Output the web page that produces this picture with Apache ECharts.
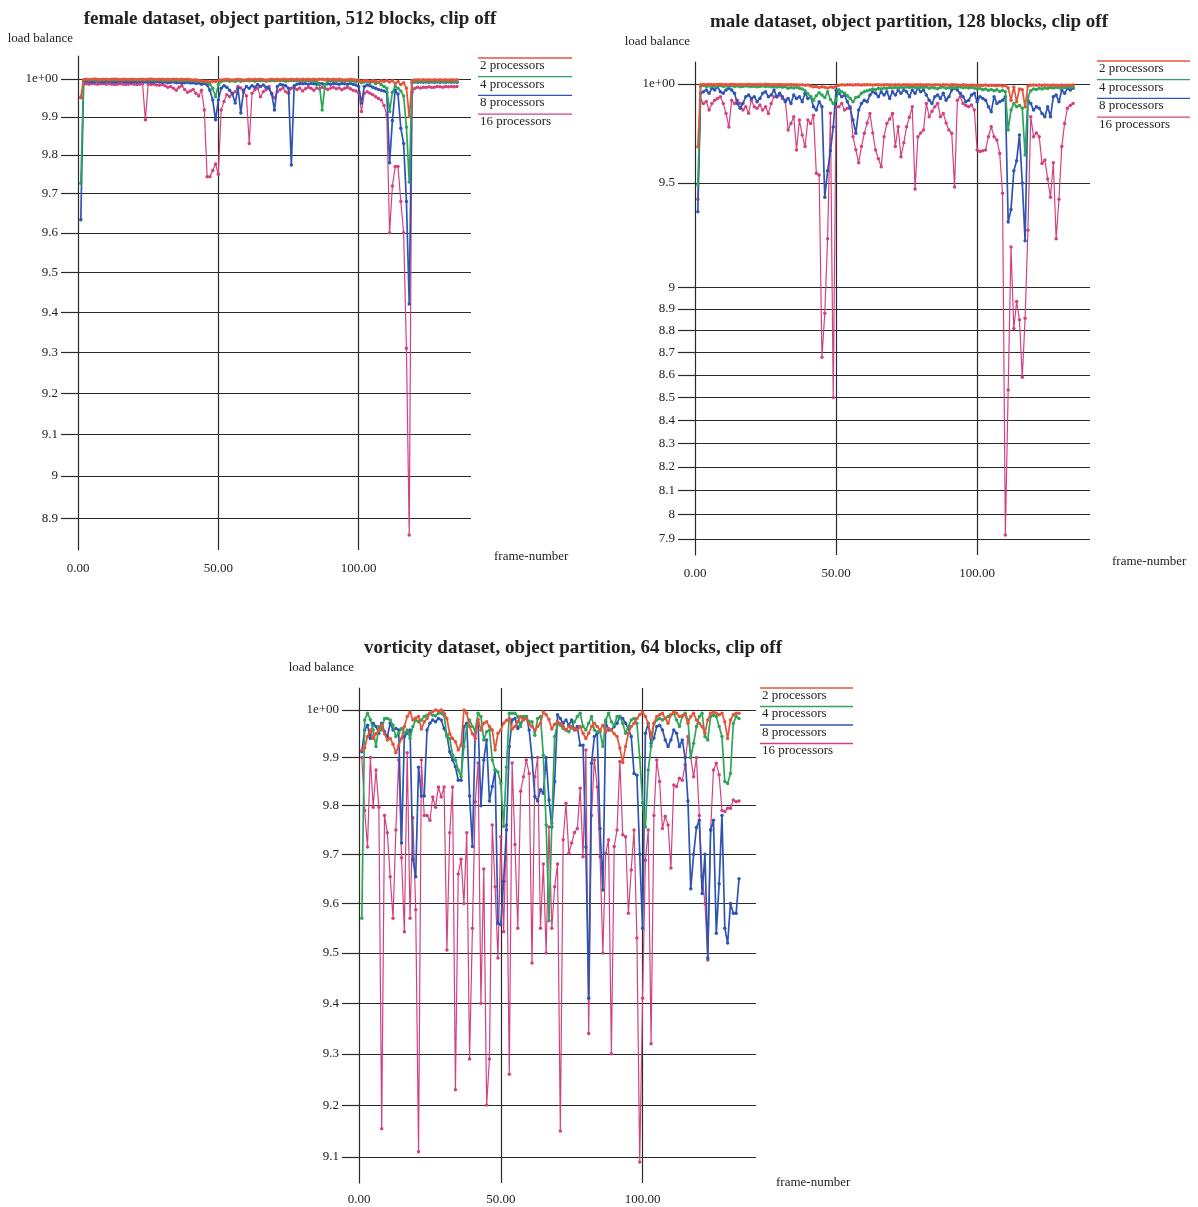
<!DOCTYPE html>
<html><head><meta charset="utf-8">
<script src="https://cdn.jsdelivr.net/npm/echarts@6/dist/echarts.min.js"></script>
<style>html,body{margin:0;padding:0;background:#fff}#c{width:1198px;height:1207px}</style>
</head><body><div id="c"></div><script>
// ---------------- data ----------------
const seriesNames = ['2 processors', '4 processors', '8 processors', '16 processors'];

// female dataset, 512 blocks (frames 1..135)
const femaleP2 = [.9952,.9998,.9999,.9998,.9999,1.0,.9999,.9998,.9999,.9999,
 .9998,.9999,1.0,.9999,.9998,.9999,.9999,.9998,.9999,.9999,
 .9998,.9999,.9999,.9998,.9999,1.0,.9999,.9998,.9999,.9999,
 .9998,.9999,.9998,.9999,.9999,.9998,.9999,.9998,.9999,.9998,
 .9997,.9998,.9996,.9995,.9993,.9994,.9992,.9994,.9993,.9995,
 .9997,.9998,.9999,.9998,.9997,.9998,.9999,.9998,.9997,.9998,
 .9999,.9998,.9999,.9998,.9999,.9998,.9997,.9998,.9999,.9998,
 .9999,.9998,.9999,.9999,.9998,.9999,.9998,.9999,.9998,.9999,
 .9998,.9999,.9998,.9999,.9998,.9999,.9999,.9998,.9999,.9998,
 .9999,.9998,.9999,.9998,.9997,.9998,.9999,.9998,.9997,.9996,
 .9994,.9996,.9995,.9993,.9996,.9994,.9991,.9995,.9993,.9996,
 .9992,.9995,.9988,.9993,.9985,.9990,.9975,.9900,.9995,.9997,
 .9998,.9997,.9998,.9997,.9998,.9997,.9998,.9997,.9998,.9997,
 .9998,.9997,.9998,.9997,.9998];
const femaleP4 = [.9727,.9997,.9998,.9997,.9998,.9997,.9997,.9998,.9997,.9998,
 .9997,.9998,.9997,.9997,.9998,.9997,.9998,.9997,.9997,.9998,
 .9997,.9997,.9998,.9997,.9998,.9997,.9997,.9998,.9997,.9996,
 .9997,.9996,.9997,.9996,.9997,.9996,.9995,.9997,.9996,.9995,
 .9996,.9994,.9995,.9993,.9994,.9990,.9985,.9975,.9953,.9985,
 .9993,.9995,.9996,.9994,.9995,.9993,.9996,.9994,.9995,.9996,
 .9995,.9996,.9994,.9996,.9995,.9996,.9994,.9995,.9996,.9995,
 .9996,.9995,.9996,.9994,.9995,.9996,.9995,.9996,.9995,.9996,
 .9995,.9996,.9994,.9995,.9993,.9985,.9918,.9985,.9994,.9995,
 .9996,.9995,.9996,.9995,.9996,.9995,.9994,.9995,.9993,.9994,
 .9990,.9992,.9994,.9990,.9993,.9988,.9991,.9985,.9980,.9975,
 .9914,.9965,.9980,.9975,.9968,.9955,.9873,.9730,.9990,.9994,
 .9993,.9994,.9993,.9994,.9993,.9994,.9993,.9994,.9993,.9994,
 .9993,.9994,.9993,.9994,.9993];
const femaleP8 = [.9633,.9993,.9994,.9993,.9992,.9993,.9994,.9993,.9992,.9993,
 .9994,.9993,.9992,.9993,.9994,.9993,.9992,.9993,.9992,.9993,
 .9992,.9993,.9994,.9992,.9993,.9992,.9991,.9993,.9992,.9991,
 .9992,.9990,.9991,.9992,.9990,.9991,.9989,.9990,.9991,.9989,
 .9990,.9988,.9989,.9986,.9988,.9984,.9970,.9944,.9892,.9944,
 .9975,.9982,.9978,.9970,.9960,.9936,.9975,.9910,.9970,.9980,
 .9975,.9982,.9978,.9985,.9980,.9984,.9978,.9975,.9960,.9918,
 .9980,.9985,.9984,.9982,.9975,.9774,.9982,.9986,.9988,.9987,
 .9988,.9986,.9988,.9987,.9986,.9988,.9987,.9985,.9987,.9986,
 .9988,.9987,.9986,.9988,.9987,.9986,.9988,.9986,.9984,.9980,
 .9936,.9980,.9984,.9982,.9978,.9975,.9972,.9970,.9968,.9965,
 .9780,.9890,.9970,.9960,.9870,.9830,.9680,.9420,.9990,.9992,
 .9991,.9992,.9991,.9992,.9991,.9992,.9991,.9992,.9991,.9992,
 .9991,.9992,.9991,.9992,.9991];
const femaleP16 = [.9950,.9986,.9987,.9986,.9988,.9987,.9986,.9987,.9988,.9986,
 .9987,.9986,.9985,.9986,.9987,.9986,.9985,.9986,.9987,.9986,
 .9985,.9986,.9987,.9892,.9986,.9985,.9986,.9984,.9983,.9985,
 .9982,.9978,.9980,.9975,.9970,.9978,.9982,.9972,.9965,.9968,
 .9972,.9962,.9955,.9970,.9918,.9744,.9744,.9760,.9777,.9750,
 .9918,.9940,.9958,.9953,.9962,.9966,.9980,.9976,.9966,.9955,
 .9830,.9962,.9971,.9976,.9953,.9966,.9971,.9980,.9962,.9950,
 .9966,.9971,.9976,.9966,.9962,.9975,.9978,.9972,.9976,.9968,
 .9974,.9978,.9975,.9970,.9976,.9973,.9978,.9975,.9972,.9976,
 .9978,.9974,.9976,.9971,.9975,.9978,.9974,.9970,.9968,.9962,
 .9914,.9962,.9966,.9962,.9958,.9953,.9948,.9944,.9930,.9905,
 .9600,.9720,.9770,.9770,.9680,.9600,.9310,.8860,.9965,.9975,
 .9978,.9976,.9978,.9977,.9979,.9977,.9978,.9980,.9979,.9978,
 .9980,.9979,.9980,.9979,.9980];

// male dataset, 128 blocks (frames 1..134)
const maleP2 = [.968,.9997,.9998,.9997,.9999,.9998,.9997,.9998,.9999,.9997,
 .9998,.9997,.9999,.9998,.9997,.9998,.9997,.9998,.9999,.9997,
 .9998,.9997,.9998,.9997,.9999,.9998,.9997,.9998,.9997,.9998,
 .9997,.9996,.9997,.9998,.9996,.9997,.9995,.9996,.9994,.9995,
 .9990,.9986,.9988,.9982,.9986,.9984,.9980,.9985,.9982,.9990,
 .9994,.9996,.9995,.9997,.9996,.9995,.9997,.9996,.9995,.9997,
 .9996,.9997,.9995,.9996,.9997,.9995,.9996,.9997,.9996,.9995,
 .9997,.9996,.9995,.9997,.9996,.9997,.9995,.9996,.9997,.9996,
 .9995,.9997,.9996,.9995,.9997,.9996,.9995,.9997,.9996,.9995,
 .9997,.9996,.9995,.9994,.9996,.9995,.9993,.9995,.9994,.9992,
 .9994,.9993,.9995,.9992,.9994,.9993,.9991,.9994,.9990,.9993,
 .9980,.9917,.9985,.9909,.9975,.9970,.9883,.9990,.9994,.9995,
 .9994,.9995,.9993,.9995,.9994,.9992,.9995,.9994,.9993,.9995,
 .9994,.9995,.9994,.9995];
const maleP4 = [.949,.9990,.9992,.9988,.9990,.9991,.9989,.9990,.9992,.9988,
 .9990,.9989,.9991,.9988,.9990,.9986,.9988,.9990,.9989,.9987,
 .9989,.9986,.9988,.9990,.9987,.9989,.9986,.9988,.9985,.9987,
 .9984,.9986,.9978,.9983,.9980,.9984,.9978,.9975,.9965,.9950,
 .9935,.9917,.9940,.9955,.9943,.9930,.9960,.9920,.9900,.9915,
 .9970,.9960,.9952,.9940,.9926,.9909,.9930,.9935,.9952,.9960,
 .9965,.9969,.9975,.9970,.9978,.9975,.9980,.9977,.9982,.9979,
 .9983,.9980,.9984,.9981,.9985,.9982,.9986,.9983,.9980,.9984,
 .9982,.9985,.9978,.9983,.9980,.9976,.9982,.9985,.9978,.9981,
 .9984,.9980,.9983,.9985,.9981,.9984,.9980,.9983,.9979,.9975,
 .9978,.9970,.9975,.9968,.9972,.9965,.9970,.9962,.9968,.9960,
 .9765,.9866,.9900,.9883,.9890,.9875,.9639,.9935,.9965,.9975,
 .9972,.9978,.9975,.9980,.9977,.9982,.9980,.9983,.9981,.9984,
 .9982,.9985,.9983,.9985];
const maleP8 = [.936,.9952,.9960,.9969,.9952,.9978,.9969,.9986,.9960,.9952,
 .9969,.9978,.9969,.9952,.9900,.9875,.9900,.9935,.9943,.9926,
 .9935,.9909,.9926,.9952,.9960,.9935,.9943,.9969,.9935,.9952,
 .9935,.9909,.9926,.9900,.9943,.9926,.9935,.9909,.9952,.9926,
 .9935,.9883,.9866,.9909,.9883,.9430,.9560,.9660,.9780,.9969,
 .9952,.9935,.9943,.9909,.9875,.9815,.9748,.9866,.9900,.9917,
 .9909,.9943,.9960,.9952,.9935,.9960,.9943,.9960,.9926,.9960,
 .9943,.9969,.9952,.9969,.9960,.9935,.9969,.9952,.9978,.9960,
 .9969,.9943,.9917,.9900,.9935,.9943,.9926,.9952,.9917,.9935,
 .9969,.9978,.9969,.9952,.9935,.9909,.9917,.9943,.9952,.9909,
 .9935,.9926,.9917,.9883,.9858,.9935,.9900,.9909,.9917,.9935,
 .9310,.9370,.9560,.9610,.9740,.9500,.9220,.9917,.9900,.9866,
 .9883,.9875,.9849,.9832,.9883,.9832,.9935,.9943,.9909,.9969,
 .9952,.9978,.9969,.9978];
const maleP16 = [.942,.9917,.9900,.9910,.9866,.9900,.9917,.9926,.9935,.9900,
 .9849,.9780,.9917,.9900,.9917,.9900,.9866,.9883,.9850,.9917,
 .9883,.9875,.9892,.9866,.9883,.9849,.9900,.9935,.9935,.9943,
 .9926,.9917,.9765,.9798,.9832,.9664,.9815,.9740,.9681,.9815,
 .9798,.9840,.9548,.9540,.8680,.8880,.9230,.9850,.8500,.9883,
 .9883,.9900,.9866,.9875,.9883,.9731,.9665,.9600,.9681,.9748,
 .9800,.9849,.9750,.9664,.9620,.9580,.9731,.9798,.9820,.9849,
 .9681,.9781,.9630,.9700,.9781,.9830,.9883,.9470,.9731,.9750,
 .9765,.9900,.9832,.9860,.9883,.9900,.9832,.9849,.9800,.9765,
 .9748,.9480,.9917,.9935,.9900,.9890,.9883,.9892,.9866,.9664,
 .9656,.9660,.9664,.9731,.9781,.9731,.9714,.9647,.9450,.7916,
 .8534,.9190,.8810,.8934,.8850,.8590,.8857,.9270,.9832,.9731,
 .9750,.9731,.9597,.9614,.9520,.9430,.9600,.9230,.9420,.9681,
 .9798,.9875,.9890,.9900];

// vorticity dataset, 64 blocks (frames 1..134)
const vortP2 = [.9916,.9920,.9944,.9958,.9940,.9950,.9958,.9968,.9950,.9937,
 .9940,.9928,.9910,.9925,.9940,.9965,.9986,.9996,.9979,.9983,
 .9986,.9960,.9975,.9982,.9993,.9997,1.0,.9998,1.0,.9993,
 .9982,.9950,.9940,.9933,.9916,.9926,1.0,.9993,.9965,.9950,
 .9940,.9980,.9958,.9972,.9975,.9965,.9958,.9916,.9951,.9958,
 .9972,.9978,.9982,.9960,.9965,.9975,.9986,.9979,.9982,.9970,
 .9965,.9958,.9965,.9972,.9996,.9990,.9980,.9960,.9970,.9975,
 .9972,.9965,.9958,.9965,.9962,.9960,.9958,.9965,.9951,.9940,
 .9951,.9965,.9972,.9965,.9958,.9968,.9954,.9961,.9958,.9950,
 .9944,.9920,.9890,.9923,.9951,.9965,.9972,.9982,.9990,.9996,
 .9986,.9972,.9944,.9972,.9986,.9990,.9993,.9982,.9972,.9990,
 .9996,.9993,.9986,.9988,.9990,.9972,.9986,.9993,.9979,.9972,
 .9965,.9951,.9979,.9993,.9996,.9993,.9990,.9993,.9975,.9940,
 .9979,.9990,.9993,.9993];
const vortP4 = [.9570,.9979,.9993,.9980,.9958,.9923,.9965,.9958,.9982,.9982,
 .9979,.9968,.9944,.9951,.9961,.9951,.9958,.9940,.9965,.9979,
 .9975,.9979,.9986,.9989,.9993,.9989,.9988,.9993,.9993,.9989,
 .9944,.9940,.9905,.9895,.9874,.9860,.9923,.9965,.9979,.9965,
 .9958,.9993,.9986,.9937,.9954,.9958,.9895,.9874,.9870,.9846,
 .9757,.9880,.9993,.9993,.9993,.9986,.9965,.9986,.9986,.9975,
 .9975,.9947,.9982,.9986,.9905,.9760,.9565,.9764,.9944,.9972,
 .9968,.9961,.9958,.9954,.9965,.9975,.9986,.9993,.9965,.9958,
 .9972,.9986,.9958,.9954,.9954,.9923,.9979,.9993,.9975,.9968,
 .9986,.9986,.9972,.9951,.9965,.9979,.9982,.9972,.9900,.9806,
 .9756,.9874,.9923,.9972,.9979,.9982,.9979,.9982,.9986,.9990,
 .9993,.9979,.9965,.9986,.9993,.9979,.9900,.9930,.9965,.9986,
 .9993,.9944,.9937,.9986,.9989,.9986,.9965,.9944,.9850,.9846,
 .9867,.9972,.9986,.9982];
const vortP8 = [.9912,.9958,.9968,.9940,.9972,.9965,.9951,.9972,.9954,.9944,
 .9972,.9958,.9961,.9958,.9723,.9944,.9951,.9958,.9690,.9654,
 .9880,.9820,.9820,.9958,.9972,.9979,.9975,.9982,.9979,.9961,
 .9947,.9912,.9895,.9881,.9853,.9853,.9965,.9972,.9820,.9716,
 .9958,.9972,.9800,.9895,.9937,.9810,.9840,.9874,.9560,.9557,
 .9645,.9750,.9923,.9979,.9982,.9961,.9972,.9982,.9986,.9958,
 .9900,.9819,.9810,.9833,.9826,.9900,.9812,.9756,.9850,.9990,
 .9982,.9972,.9979,.9968,.9979,.9958,.9965,.9926,.9926,.9715,
 .9410,.9888,.9944,.9951,.9753,.9627,.9975,.9958,.9958,.9965,
 .9972,.9986,.9982,.9972,.9961,.9944,.9867,.9863,.9700,.9550,
 .9951,.9972,.9930,.9941,.9965,.9968,.9958,.9937,.9923,.9937,
 .9958,.9951,.9923,.9937,.9900,.9810,.9630,.9700,.9755,.9770,
 .9620,.9700,.9490,.9750,.9770,.9540,.9640,.9780,.9550,.9520,
 .9600,.9580,.9580,.9650];
const vortP16 = [.9900,.9790,.9715,.9900,.9797,.9874,.9797,.9154,.9780,.9744,
 .9654,.9570,.9750,.9895,.9693,.9543,.9910,.9570,.9775,.9587,
 .9110,.9895,.9780,.9780,.9770,.9818,.9797,.9839,.9818,.9839,
 .9506,.9744,.9839,.9230,.9660,.9690,.9600,.9744,.9290,.9550,
 .9808,.9889,.9400,.9670,.9200,.9290,.9760,.9634,.9490,.9736,
 .9543,.9760,.9260,.9889,.9720,.9550,.9830,.9860,.9895,.9867,
 .9480,.9860,.9900,.9550,.9680,.9500,.9756,.9550,.9634,.9680,
 .9150,.9730,.9805,.9702,.9723,.9745,.9753,.9836,.9695,.9916,
 .9340,.9780,.9895,.9839,.9695,.9500,.9702,.9730,.9300,.9716,
 .9750,.9892,.9740,.9736,.9580,.9668,.9750,.9530,.9090,.9410,
 .9688,.9750,.9320,.9780,.9895,.9850,.9753,.9778,.9760,.9672,
 .9843,.9840,.9857,.9853,.9885,.9944,.9900,.9860,.9900,.9780,
 .9655,.9600,.9486,.9750,.9874,.9888,.9864,.9790,.9788,.9795,
 .9795,.9812,.9808,.9810];

// y tick values and their printed labels
const femaleTicks = [1, .99, .98, .97, .96, .95, .94, .93, .92, .91, .90, .89];
const femaleTickLabels = ['1e+00','9.9','9.8','9.7','9.6','9.5','9.4','9.3','9.2','9.1','9','8.9'];
const maleTicks = [1, .95, .90, .89, .88, .87, .86, .85, .84, .83, .82, .81, .80, .79];
const maleTickLabels = ['1e+00','9.5','9','8.9','8.8','8.7','8.6','8.5','8.4','8.3','8.2','8.1','8','7.9'];
const vortTicks = [1, .99, .98, .97, .96, .95, .94, .93, .92, .91];
const vortTickLabels = ['1e+00','9.9','9.8','9.7','9.6','9.5','9.4','9.3','9.2','9.1'];

// ---------------- layout / style ----------------
const FONT = '"Liberation Serif", "Times New Roman", serif';
const TXT = '#222';
const GRIDC = '#2a2a2a';
const COLORS = ['#e4533c', '#2fa55a', '#2f55b3', '#d3427f'];

const panels = [
  { title: 'female dataset, object partition, 512 blocks, clip off', tcx: 290, ttop: 10,
    grid: {left: 78, top: 56, width: 393, height: 494}, yRange: [0.8825, 1.0061],
    ticks: femaleTicks, labels: femaleTickLabels,
    data: [femaleP2, femaleP4, femaleP8, femaleP16],
    leg: {x: 478, w: 94, y: 58, gap: 18.7},
    yName: {gap: 17}, xName: {gap: 23, va: 'top'}, xLabMargin: 12 },
  { title: 'male dataset, object partition, 128 blocks, clip off', tcx: 909, ttop: 13,
    grid: {left: 695, top: 62, width: 395, height: 493}, yRange: [0.7834, 1.0115],
    ticks: maleTicks, labels: maleTickLabels,
    data: [maleP2, maleP4, maleP8, maleP16],
    leg: {x: 1097, w: 93, y: 61, gap: 18.7},
    yName: {gap: 20}, xName: {gap: 22, va: 'top'}, xLabMargin: 12 },
  { title: 'vorticity dataset, object partition, 64 blocks, clip off', tcx: 573, ttop: 639,
    grid: {left: 359, top: 688, width: 397, height: 495}, yRange: [0.9050, 1.00465],
    ticks: vortTicks, labels: vortTickLabels,
    data: [vortP2, vortP4, vortP8, vortP16],
    leg: {x: 760, w: 93, y: 688, gap: 18.5},
    yName: {gap: 20}, xName: {gap: 20, va: 'middle'}, xLabMargin: 10 }
];

const option = {
  animation: false,
  backgroundColor: '#fff',
  title: [], grid: [], xAxis: [], yAxis: [], series: [], graphic: []
};

panels.forEach((p, pi) => {
  option.title.push({
    text: p.title, left: p.tcx, top: p.ttop, textAlign: 'center', padding: 0,
    textStyle: {fontFamily: FONT, fontSize: 19, fontWeight: 'bold', color: TXT}
  });
  option.grid.push(Object.assign({containLabel: false}, p.grid));
  option.xAxis.push({
    gridIndex: pi, type: 'value', min: 0, max: 140, interval: 50, position: 'bottom',
    name: 'frame-number', nameLocation: 'end', nameGap: p.xName.gap,
    nameTextStyle: {fontFamily: FONT, fontSize: 13, color: TXT, align: 'left', verticalAlign: p.xName.va},
    axisLine: {show: false, onZero: false}, axisTick: {show: false},
    axisLabel: {fontFamily: FONT, fontSize: 13, color: TXT, margin: p.xLabMargin, showMaxLabel: false,
      formatter: v => Number(v).toFixed(2)},
    splitLine: {show: true, showMinLine: false, showMaxLine: false, lineStyle: {color: GRIDC, width: 1.2}}
  });
  const lnTicks = p.ticks.map(v => Math.log(v));
  option.yAxis.push({
    gridIndex: pi, type: 'value',
    min: Math.log(p.yRange[0]), max: Math.log(p.yRange[1]),
    name: 'load balance', nameLocation: 'end', nameGap: p.yName.gap,
    nameTextStyle: {fontFamily: FONT, fontSize: 13, color: TXT, align: 'right', verticalAlign: 'middle', padding: [0, 5, 0, 0]},
    axisLine: {show: true, onZero: false, lineStyle: {color: GRIDC, width: 1.2}},
    axisTick: {show: true, customValues: lnTicks, length: 17, lineStyle: {color: GRIDC, width: 1.2}},
    axisLabel: {customValues: lnTicks, margin: 20, fontFamily: FONT, fontSize: 13, color: TXT,
      formatter: v => {
        let best = 0, bd = Infinity;
        lnTicks.forEach((t, i) => { const d = Math.abs(t - v); if (d < bd) { bd = d; best = i; } });
        return p.labels[best];
      }},
    splitLine: {show: true, lineStyle: {color: GRIDC, width: 1.2}}
  });
  // series: draw 16 first so 2 processors lies on top
  [3, 2, 1, 0].forEach(si => {
    const vals = p.data[si];
    option.series.push({
      name: seriesNames[si], type: 'line', xAxisIndex: pi, yAxisIndex: pi,
      data: vals.map((v, i) => [i + 1, Math.log(v)]),
      symbol: 'circle', symbolSize: 3.5, showSymbol: true,
      itemStyle: {color: COLORS[si]},
      lineStyle: {color: COLORS[si], width: si === 3 ? 1.2 : 1.7},
      clip: true, z: 2 + (3 - si)
    });
  });
  // legend: coloured rule above each label
  seriesNames.forEach((nm, si) => {
    const y = p.leg.y + si * p.leg.gap;
    option.graphic.push({type: 'line', silent: true,
      shape: {x1: p.leg.x, y1: y, x2: p.leg.x + p.leg.w, y2: y},
      style: {stroke: COLORS[si], lineWidth: 1.3}});
    option.graphic.push({type: 'text', silent: true, x: p.leg.x + 2, y: y + 7.5,
      style: {text: nm, fontFamily: FONT, fontSize: 13, fill: TXT, align: 'left', verticalAlign: 'middle'}});
  });
});

const chart = echarts.init(document.getElementById('c'), null, {renderer: 'canvas'});
chart.setOption(option);
</script></body></html>
